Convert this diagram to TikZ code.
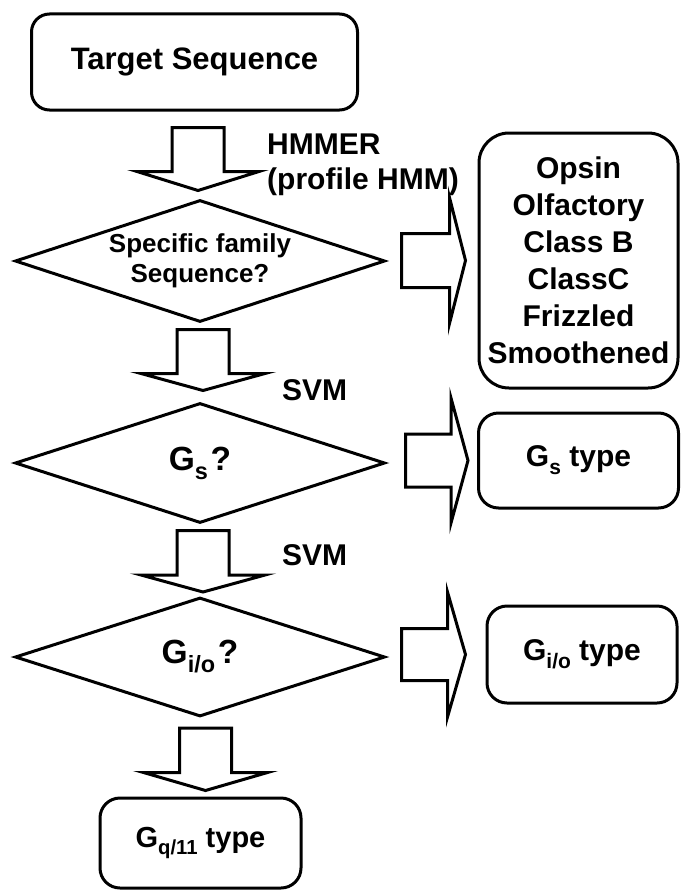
\documentclass[tikz,border=0pt]{standalone}
\usepackage{fontspec}
\setmainfont{Liberation Sans}
\usetikzlibrary{shapes.geometric,calc}

% lowered, reduced subscript for the G-protein labels
\newcommand\lowsub[1]{\raisebox{-0.27em}{\scalebox{0.7}{#1}}}

% down-pointing block arrow: #1 start of stem, #2 tip,
% #3 half stem width, #4 half head width, #5 head length
\newcommand\dblock[5]{%
  \draw[blk] let \p1=(#1), \p2=(#2) in
    (\x2-#3,\y1) -- (\x2+#3,\y1) -- (\x2+#3,\y2+#5) -- (\x2+#4,\y2+#5)
    -- (\x2,\y2) -- (\x2-#4,\y2+#5) -- (\x2-#3,\y2+#5) -- cycle;}
% right-pointing block arrow, same parameters
\newcommand\rblock[5]{%
  \draw[blk] let \p1=(#1), \p2=(#2) in
    (\x1,\y2+#3) -- (\x2-#5,\y2+#3) -- (\x2-#5,\y2+#4) -- (\x2,\y2)
    -- (\x2-#5,\y2-#4) -- (\x2-#5,\y2-#3) -- (\x1,\y2-#3) -- cycle;}

\tikzset{
  box/.style={draw, line width=3pt, rounded corners=18pt, align=center,
    inner sep=0pt, font=\bfseries\fontsize{30}{36}\selectfont},
  decision/.style={draw, diamond, aspect=3, line width=3pt, inner sep=0pt,
    align=center, minimum width=370pt},
  blk/.style={draw, line width=3pt, fill=white, line join=miter},
  tag/.style={align=left, anchor=west, inner sep=0pt,
    font=\bfseries\fontsize{30}{35}\selectfont}
}

\begin{document}
\begin{tikzpicture}[x=1pt,y=-1pt]
\useasboundingbox (0,0) rectangle (680,891);

% main column
\node[box, minimum width=326pt, minimum height=96pt,
      font=\bfseries\fontsize{31}{36}\selectfont] (ts) at (194.5,62) {Target Sequence};
\node[decision, minimum height=122pt,
      font=\bfseries\fontsize{26}{29.5}\selectfont] (d1) at (200,261) {Specific family\\Sequence?};
\node[decision, minimum height=120pt,
      font=\bfseries\fontsize{33.5}{38}\selectfont] (d2) at (200,463) {G\lowsub{s}\kern0.08em?};
\node[decision, minimum height=119pt,
      font=\bfseries\fontsize{33.5}{38}\selectfont] (d3) at (200,657) {G\lowsub{i/o}\kern0.08em?};
\node[box, minimum width=201pt, minimum height=90pt, rounded corners=20pt,
      font=\bfseries\fontsize{29}{34}\selectfont] (gq) at (200.5,843) {G\lowsub{q/11} type};

% results on the right
\node[box, minimum width=199pt, minimum height=255pt, rounded corners=30pt,
      font=\bfseries\fontsize{30}{37}\selectfont] (fam) at (578.5,260.5)
      {Opsin\\Olfactory\\Class B\\ClassC\\Frizzled\\Smoothened};
\node[box, minimum width=200pt, minimum height=95pt, rounded corners=20pt] (gs) at (578.5,460.5) {G\lowsub{s} type};
\node[box, minimum width=190pt, minimum height=97pt, rounded corners=20pt] (gio) at (582,654.5) {G\lowsub{i/o} type};

% method labels
\node[tag] (hmm) at (267,165) {HMMER\\(profile HMM)};
\node[tag] (svma) at (282,390) {SVM};
\node[tag] (svmb) at (282,555) {SVM};

% downward flow
\dblock{$(ts.south)+(3,16)$}{$(d1.north)+(-2,-8)$}{26pt}{61pt}{19pt}
\dblock{$(d1.south)+(3,6)$}{$(d2.north)+(3,-11)$}{26pt}{62pt}{17pt}
\dblock{$(d2.south)+(3,6)$}{$(d3.north)+(3,-4)$}{26pt}{62pt}{17pt}
\dblock{$(d3.south)+(5,10)$}{$(gq.north)+(5,-6)$}{26pt}{62pt}{18pt}

% sideways exits
\rblock{$(d1.east)+(15,0)$}{$(fam.west)+(-12,0)$}{27pt}{63pt}{16pt}
\rblock{$(d2.east)+(19,0)$}{$(gs.west)+(-9,0)$}{26.5pt}{62.5pt}{17pt}
\rblock{$(d3.east)+(15,0)$}{$(gio.west)+(-20,0)$}{26pt}{62.5pt}{18pt}
\end{tikzpicture}
\end{document}
